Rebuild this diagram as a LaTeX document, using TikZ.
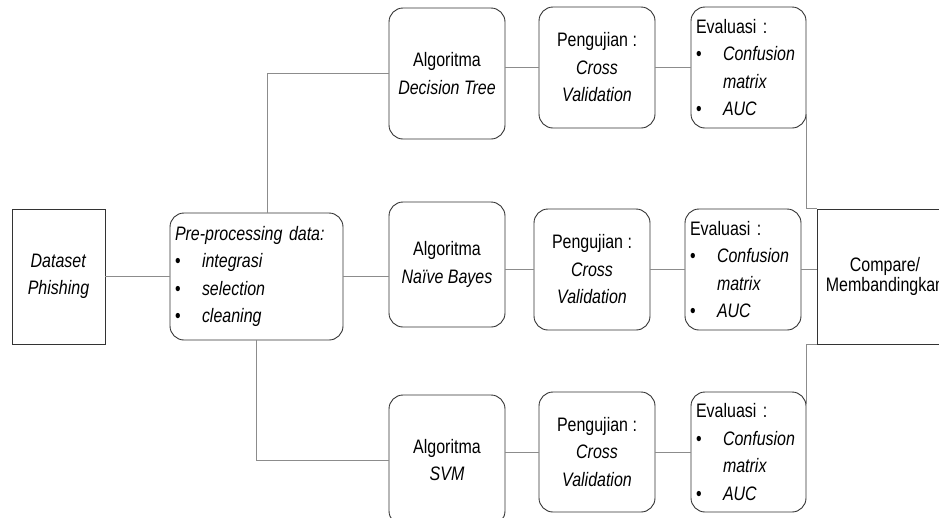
\documentclass[tikz,border=0pt]{standalone}
\usepackage{fontspec}
\setmainfont{Liberation Sans}[FakeStretch=0.82]
\newcommand{\mybullet}{\makebox[27pt][l]{\textbullet}}
\begin{document}
\begin{tikzpicture}[x=1pt,y=-1pt,
  box/.style={draw=black!80, line width=0.9pt, inner sep=0pt, align=center,
    font=\fontsize{19.5}{27.5}\selectfont},
  rbox/.style={box, rounded corners=14pt},
  conn/.style={draw=black!45, line width=0.9pt}]
\useasboundingbox (0,0) rectangle (939,517);
\clip (0,0) rectangle (939,517);

\node[box, minimum width=93pt, minimum height=135pt] (ds) at (58.5,276.5)
  {\textit{Dataset}\\\textit{Phishing}};
\node[rbox, minimum width=173pt, minimum height=127pt, text width=163pt, align=left] (pre) at (256.5,276.5)
  {\textit{Pre-processing data:}\\\mybullet\textit{integrasi}\\\mybullet\textit{selection}\\\mybullet\textit{cleaning}};

\node[rbox, minimum width=116pt, minimum height=131pt] (dt) at (447,73.5)
  {Algoritma\\\textit{Decision Tree}};
\node[rbox, minimum width=116pt, minimum height=121pt] (pdt) at (597,67.5)
  {Pengujian :\\\textit{Cross}\\\textit{Validation}};
\node[rbox, minimum width=115pt, minimum height=121pt, text width=105pt, align=left] (edt) at (748.5,67.5)
  {Evaluasi :\\\mybullet\textit{Confusion}\\\hspace*{27pt}\textit{matrix}\\\mybullet\textit{AUC}};

\node[rbox, minimum width=116pt, minimum height=125pt] (nb) at (447,264.5)
  {Algoritma\\\textit{Naïve Bayes}};
\node[rbox, minimum width=116pt, minimum height=121pt] (pnb) at (592,269.5)
  {Pengujian :\\\textit{Cross}\\\textit{Validation}};
\node[rbox, minimum width=116pt, minimum height=121pt, text width=106pt, align=left] (enb) at (743,269.5)
  {Evaluasi :\\\mybullet\textit{Confusion}\\\hspace*{27pt}\textit{matrix}\\\mybullet\textit{AUC}};

\node[rbox, minimum width=116pt, minimum height=130pt] (svm) at (447,460)
  {Algoritma\\\textit{SVM}};
\node[rbox, minimum width=116pt, minimum height=120pt] (psvm) at (597,452)
  {Pengujian :\\\textit{Cross}\\\textit{Validation}};
\node[rbox, minimum width=115pt, minimum height=120pt, text width=105pt, align=left] (esvm) at (748.5,452)
  {Evaluasi :\\\mybullet\textit{Confusion}\\\hspace*{27pt}\textit{matrix}\\\mybullet\textit{AUC}};

\node[box, minimum width=136pt, minimum height=135pt, font=\fontsize{19.5}{20.5}\selectfont] (cmp) at (885,276.5)
  {Compare/\\Membandingkan};

\draw[conn] (ds.east) -- (pre.west);
\draw[conn] ([xshift=10.5pt]pre.north) |- (dt.west);
\draw[conn] (pre.south) |- (svm.west);
\draw[conn] (pre.east) -- (pre.east -| nb.west);

\draw[conn] (pdt.west -| dt.east) -- (pdt.west);
\draw[conn] (pnb.west -| nb.east) -- (pnb.west);
\draw[conn] (psvm.west -| svm.east) -- (psvm.west);

\draw[conn] (pdt.east) -- (edt.west);
\draw[conn] (pnb.east) -- (enb.west);
\draw[conn] (psvm.east) -- (esvm.west);

\draw[conn] ([yshift=14pt]edt.south east) |- (cmp.north west);
\draw[conn] (enb.east) -- (enb.east -| cmp.west);
\draw[conn] ([yshift=-12pt]esvm.north east) |- (cmp.south west);
\end{tikzpicture}
\end{document}
